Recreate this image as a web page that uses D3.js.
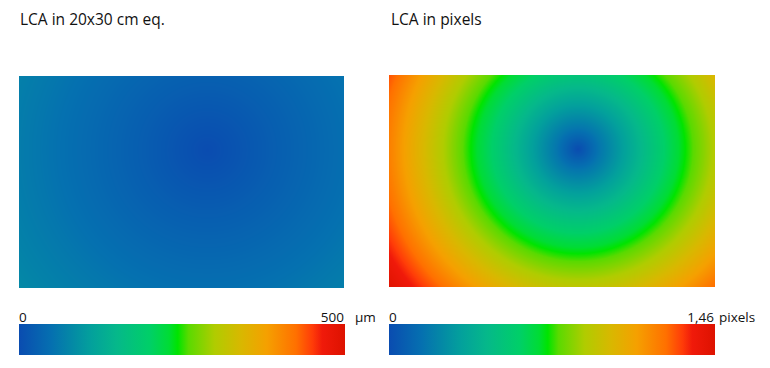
<!DOCTYPE html>
<html>
<head>
<meta charset="utf-8">
<script src="https://cdn.jsdelivr.net/npm/d3@7"></script>
<style>
  html, body { margin: 0; padding: 0; background: #ffffff; }
  svg { display: block; }
  text { font-family: "Open Sans", "Noto Sans", sans-serif; fill: #111111; }
</style>
</head>
<body>
<svg id="chart" width="770" height="368"></svg>
<script>
// ---------------- DATA ----------------
// Print area: 30 cm wide x 20 cm high; optical centre location (cm from left, cm from top)
const sensorXDomainCm = [0, 30];
const sensorYDomainCm = [0, 20];
const opticalCenterCm = [17.4, 7.0];

// Radial profile of lateral chromatic aberration (distance from optical centre, cm)
const radiusCm    = [0, 2, 4, 6, 8, 10, 12, 14, 16, 18, 20, 22];
const lcaPixels   = [0, 0.17, 0.31, 0.45, 0.59, 0.72, 0.85, 0.98, 1.11, 1.24, 1.36, 1.46];
const lcaMicrons  = [0, 8, 16, 24, 31, 38, 45, 52, 60, 67, 74, 82];

// Colour scale ranges
const micronRange = [0, 500];
const pixelRange  = [0, 1.46];

// Colour map (fraction of range -> colour)
const colorStops  = [0, 0.10, 0.22, 0.30, 0.40, 0.46, 0.487, 0.52, 0.60, 0.68, 0.76, 0.85, 0.90, 0.93, 1.0];
const colorHexes  = ["#0a4cb0","#0570b0","#03a09c","#05b88a","#00cf68","#00dc35","#00e400","#5ada00",
                     "#b0cc00","#d8b800","#f5a000","#ff7000","#ff3c08","#f01a0a","#dd1200"];

// Texts
const titles      = ["LCA in 20x30 cm eq.", "LCA in pixels"];
const barMinLabels = ["0", "0"];
const barMaxLabels = ["500", "1,46"];
const barUnits     = ["\u00b5m", "pixels"];

// ---------------- DRAWING ----------------
const svg = d3.select("#chart");
const colorFrac = d3.scaleLinear().domain(colorStops).range(colorHexes)
  .interpolate(d3.interpolateRgb).clamp(true);

const panels = [
  { title: titles[0], profile: lcaMicrons, range: micronRange,
    map: { x0: 19, x1: 344, y0: 76, y1: 288 },
    bar: { x0: 19, x1: 345, y0: 324, y1: 355 },
    minLabel: barMinLabels[0], maxLabel: barMaxLabels[0], unit: barUnits[0],
    titleX: 20, unitGap: 10 },
  { title: titles[1], profile: lcaPixels, range: pixelRange,
    map: { x0: 389, x1: 715, y0: 75, y1: 287 },
    bar: { x0: 389, x1: 715, y0: 324, y1: 355 },
    minLabel: barMinLabels[1], maxLabel: barMaxLabels[1], unit: barUnits[1],
    titleX: 391, unitGap: 4 }
];

const defs = svg.append("defs");

panels.forEach((p, i) => {
  const m = p.map;
  const w = m.x1 - m.x0, h = m.y1 - m.y0;
  const x = d3.scaleLinear().domain(sensorXDomainCm).range([0, w]);
  const y = d3.scaleLinear().domain(sensorYDomainCm).range([0, h]);
  const radial = d3.scaleLinear().domain(radiusCm).range(p.profile).clamp(true);
  const valueToFrac = d3.scaleLinear().domain(p.range).range([0, 1]).clamp(true);

  // colour look-up table
  const lut = d3.range(1024).map(k => d3.rgb(colorFrac(k / 1023)));

  const canvas = document.createElement("canvas");
  canvas.width = w; canvas.height = h;
  const ctx = canvas.getContext("2d");
  const img = ctx.createImageData(w, h);
  for (let py = 0; py < h; py++) {
    const cy = y.invert(py + 0.5);
    for (let px = 0; px < w; px++) {
      const cx = x.invert(px + 0.5);
      const r = Math.hypot(cx - opticalCenterCm[0], cy - opticalCenterCm[1]);
      const f = valueToFrac(radial(r));
      const c = lut[Math.round(f * 1023)];
      const o = (py * w + px) * 4;
      img.data[o] = c.r; img.data[o + 1] = c.g; img.data[o + 2] = c.b; img.data[o + 3] = 255;
    }
  }
  ctx.putImageData(img, 0, 0);

  svg.append("image")
    .attr("x", m.x0).attr("y", m.y0)
    .attr("width", w).attr("height", h)
    .attr("href", canvas.toDataURL());

  // title
  svg.append("text")
    .attr("x", p.titleX).attr("y", 25)
    .attr("font-size", 15.5)
    .text(p.title);

  // colour bar
  const b = p.bar;
  const gid = "grad" + i;
  const grad = defs.append("linearGradient").attr("id", gid)
    .attr("x1", "0%").attr("x2", "100%").attr("y1", "0%").attr("y2", "0%");
  grad.selectAll("stop").data(colorStops).join("stop")
    .attr("offset", d => (d * 100) + "%")
    .attr("stop-color", (d, k) => colorHexes[k]);

  svg.append("rect")
    .attr("x", b.x0).attr("y", b.y0)
    .attr("width", b.x1 - b.x0).attr("height", b.y1 - b.y0)
    .attr("fill", `url(#${gid})`);

  const barScale = d3.scaleLinear().domain(p.range).range([b.x0, b.x1]);

  svg.append("text")
    .attr("x", barScale(p.range[0])).attr("y", 322)
    .attr("font-size", 13.5)
    .text(p.minLabel);

  svg.append("text")
    .attr("x", barScale(p.range[1]) - 1).attr("y", 322)
    .attr("font-size", 13.5)
    .attr("text-anchor", "end")
    .text(p.maxLabel);

  svg.append("text")
    .attr("x", barScale(p.range[1]) + p.unitGap).attr("y", 322)
    .attr("font-size", 13.5)
    .text(p.unit);
});
</script>
</body>
</html>
